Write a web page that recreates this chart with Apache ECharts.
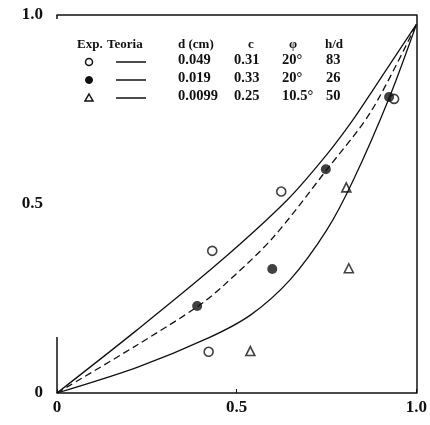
<!DOCTYPE html>
<html>
<head>
<meta charset="utf-8">
<script src="https://cdn.jsdelivr.net/npm/echarts@6/dist/echarts.min.js"></script>
<style>
  html, body { margin: 0; padding: 0; background: #fff; }
  #chart { width: 430px; height: 425px; }
</style>
</head>
<body>
<div id="chart"></div>
<script>
// Experimental points: [x, y]
const openCircles = [[0.422, 0.109], [0.432, 0.376], [0.624, 0.533], [0.938, 0.778]];
const filledCircles = [[0.390, 0.230], [0.599, 0.328], [0.748, 0.592], [0.924, 0.783]];
const openTriangles = [[0.538, 0.111], [0.805, 0.544], [0.812, 0.330]];

// Theoretical curves (read at a few abscissae)
const upperCurve = [[0, 0], [0.223, 0.167], [0.448, 0.343], [0.64, 0.51], [0.75, 0.63], [0.823, 0.722], [0.878, 0.80], [1, 0.975]];
const middleCurve = [[0, 0], [0.223, 0.127], [0.39, 0.228], [0.462, 0.283], [0.6, 0.41], [0.75, 0.59], [0.874, 0.745], [1, 0.975]];
const lowerCurve = [[0, 0], [0.223, 0.068], [0.42, 0.145], [0.538, 0.206], [0.649, 0.30], [0.75, 0.43], [0.823, 0.56], [0.924, 0.78], [1, 0.975]];

// Visible stub of the left axis
const leftAxisStub = [[0, 0], [0, 0.148]];

// Axis ticks
const xTicks = [0, 0.5, 1.0];
const yTicks = [0, 0.5, 1.0];

// Parameter table
const tableHeader = ['Exp.', 'Teoria', 'd (cm)', 'c', 'φ', 'h/d'];
const diameters = ['0.049', '0.019', '0.0099'];
const cValues = ['0.31', '0.33', '0.25'];
const phiValues = ['20°', '20°', '10.5°'];
const hdValues = ['83', '26', '50'];

const INK = '#111';
const FONT = '"Liberation Serif", "DejaVu Serif", serif';

const chart = echarts.init(document.getElementById('chart'), null, { renderer: 'canvas' });

const fmt = v => (v === 0 ? '0' : v.toFixed(1));

const tableGraphics = [];
const headerX = [77, 107, 178, 248, 289, 325];
tableHeader.forEach((t, i) => {
  tableGraphics.push({
    type: 'text', left: headerX[i], top: 38,
    style: { text: t, font: 'bold 13px ' + FONT, fill: INK }
  });
});
const rowY = [62, 80, 98];
const colX = [178, 234, 282, 326];
const cols = [diameters, cValues, phiValues, hdValues];
rowY.forEach((y, r) => {
  cols.forEach((col, c) => {
    tableGraphics.push({
      type: 'text', left: colX[c], top: y - 9,
      style: { text: col[r], font: 'bold 14.5px ' + FONT, fill: INK }
    });
  });
  tableGraphics.push({
    type: 'line', shape: { x1: 116, y1: y, x2: 146, y2: y },
    style: { stroke: INK, lineWidth: 1.5 }
  });
});
tableGraphics.push({ type: 'circle', shape: { cx: 89, cy: rowY[0], r: 3.5 }, style: { fill: '#fff', stroke: INK, lineWidth: 1.5 } });
tableGraphics.push({ type: 'circle', shape: { cx: 89, cy: rowY[1], r: 3.5 }, style: { fill: INK, stroke: INK, lineWidth: 1 } });
tableGraphics.push({ type: 'polygon', shape: { points: [[89, rowY[2] - 4], [93, rowY[2] + 3], [85, rowY[2] + 3]] }, style: { fill: '#fff', stroke: INK, lineWidth: 1.5 } });
// small corner tick at the top-left of the frame
tableGraphics.push({ type: 'line', shape: { x1: 57, y1: 15, x2: 57, y2: 19 }, style: { stroke: INK, lineWidth: 1.5 } });

const axisLabelStyle = { color: INK, fontFamily: FONT, fontWeight: 'bold', fontSize: 17 };

chart.setOption({
  animation: false,
  backgroundColor: '#fff',
  grid: { left: 57, right: 9, top: 15, bottom: 32 },
  xAxis: [
    {
      type: 'value', min: 0, max: 1, interval: 0.5,
      axisLine: { show: true, onZero: false, lineStyle: { color: INK, width: 1.5 } },
      axisTick: { show: true, inside: true, length: 4, lineStyle: { color: INK } },
      splitLine: { show: false },
      axisLabel: Object.assign({ margin: 6, formatter: fmt,
        customValues: xTicks }, axisLabelStyle)
    },
    {
      type: 'value', position: 'top', min: 0, max: 1,
      axisLine: { show: true, onZero: false, lineStyle: { color: INK, width: 1.5 } },
      axisTick: { show: false }, axisLabel: { show: false }, splitLine: { show: false }
    }
  ],
  yAxis: [
    {
      type: 'value', min: 0, max: 1, interval: 0.5,
      axisLine: { show: false },
      axisTick: { show: false },
      splitLine: { show: false },
      axisLabel: Object.assign({ margin: 14, formatter: fmt, customValues: yTicks }, axisLabelStyle)
    },
    {
      type: 'value', position: 'right', min: 0, max: 1,
      axisLine: { show: true, onZero: false, lineStyle: { color: INK, width: 1.5 } },
      axisTick: { show: false }, axisLabel: { show: false }, splitLine: { show: false }
    }
  ],
  graphic: tableGraphics,
  series: [
    {
      type: 'line', data: leftAxisStub, symbol: 'none',
      lineStyle: { color: INK, width: 1.5 }, silent: true
    },
    {
      type: 'line', data: upperCurve, smooth: 0.3, symbol: 'none',
      lineStyle: { color: INK, width: 1.3 }
    },
    {
      type: 'line', data: middleCurve, smooth: 0.3, symbol: 'none',
      lineStyle: { color: INK, width: 1.3, type: [7, 4] }
    },
    {
      type: 'line', data: lowerCurve, smooth: 0.3, symbol: 'none',
      lineStyle: { color: INK, width: 1.3 }
    },
    {
      type: 'scatter', data: openCircles, symbol: 'circle', symbolSize: 9,
      itemStyle: { color: '#fff', borderColor: INK, borderWidth: 1.6 }
    },
    {
      type: 'scatter', data: filledCircles, symbol: 'circle', symbolSize: 10,
      itemStyle: { color: INK, borderColor: INK, borderWidth: 0 }
    },
    {
      type: 'scatter', data: openTriangles, symbol: 'triangle', symbolSize: 9,
      itemStyle: { color: '#fff', borderColor: INK, borderWidth: 1.6 }
    }
  ]
});
</script>
</body>
</html>
